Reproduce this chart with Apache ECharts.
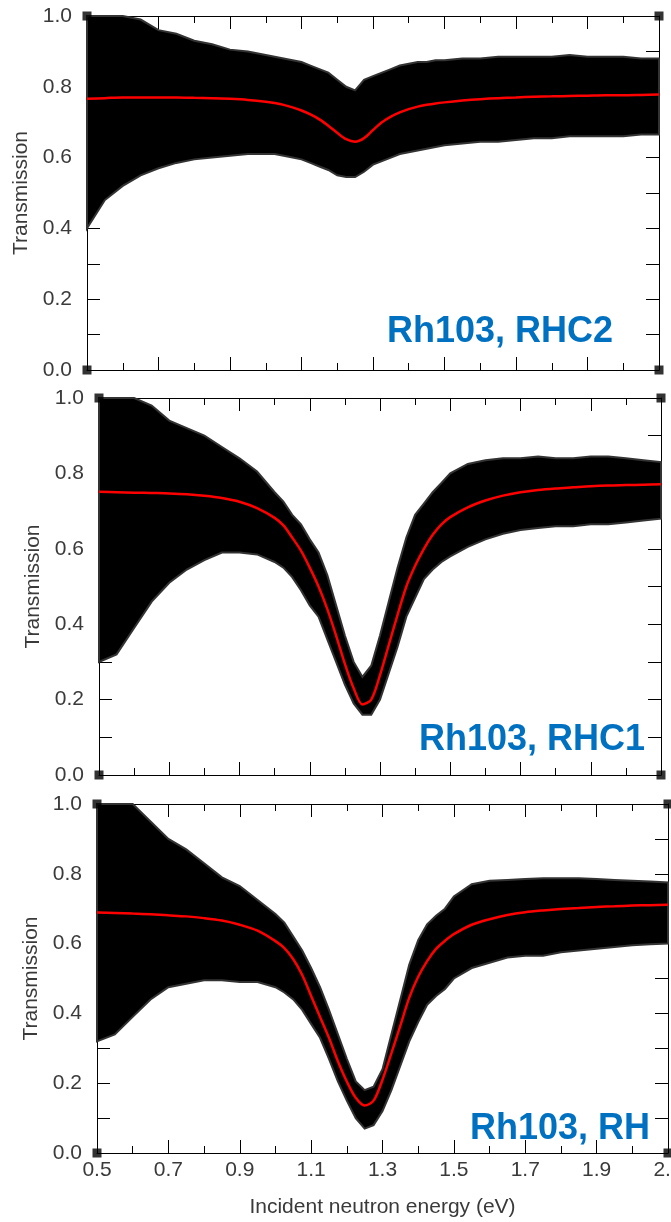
<!DOCTYPE html>
<html>
<head>
<meta charset="utf-8">
<script src="https://cdn.jsdelivr.net/npm/echarts@6/dist/echarts.min.js"></script>
<style>
  html, body { margin: 0; padding: 0; background: #fff; }
  #chart { width: 671px; height: 1222px; }
</style>
</head>
<body>
<div id="chart"></div>
<script>
// incident neutron energy (eV), denser around the 1.26 eV resonance
var energy = [0.50, 0.55, 0.60, 0.65, 0.70, 0.75, 0.80, 0.85, 0.90, 0.95, 1.00,
  1.025, 1.05, 1.075, 1.10, 1.125, 1.15, 1.175, 1.20, 1.225, 1.25, 1.275, 1.30, 1.325,
  1.35, 1.375, 1.40, 1.425, 1.45, 1.475, 1.50,
  1.55, 1.60, 1.65, 1.70, 1.75, 1.80, 1.85, 1.90, 1.95, 2.00, 2.05, 2.10];

// Rh103, RHC2 : fit (red), upper / lower edge of the measured points
var fitRHC2 = [0.766, 0.768, 0.770, 0.770, 0.770, 0.770, 0.769, 0.768, 0.766, 0.763, 0.758,
  0.754, 0.749, 0.742, 0.733, 0.722, 0.708, 0.690, 0.670, 0.652, 0.645, 0.655, 0.678, 0.700,
  0.716, 0.728, 0.737, 0.744, 0.749, 0.753, 0.756,
  0.761, 0.765, 0.768, 0.770, 0.772, 0.773, 0.774, 0.775, 0.776, 0.776, 0.777, 0.778];
var hiRHC2 = [1.00, 1.00, 1.00, 0.99, 0.96, 0.95, 0.93, 0.92, 0.905, 0.90, 0.89,
  0.885, 0.88, 0.875, 0.87, 0.86, 0.85, 0.84, 0.82, 0.80, 0.79, 0.82, 0.83, 0.84,
  0.85, 0.86, 0.865, 0.87, 0.87, 0.875, 0.875,
  0.88, 0.88, 0.885, 0.885, 0.885, 0.885, 0.89, 0.885, 0.885, 0.885, 0.88, 0.88];
var loRHC2 = [0.40, 0.48, 0.52, 0.55, 0.57, 0.585, 0.595, 0.60, 0.605, 0.61, 0.61,
  0.61, 0.605, 0.60, 0.595, 0.585, 0.575, 0.565, 0.55, 0.545, 0.545, 0.56, 0.58, 0.59,
  0.60, 0.61, 0.615, 0.62, 0.625, 0.63, 0.635,
  0.64, 0.645, 0.645, 0.65, 0.655, 0.655, 0.66, 0.66, 0.66, 0.66, 0.665, 0.665];

// Rh103, RHC1
var fitRHC1 = [0.751, 0.750, 0.749, 0.748, 0.747, 0.745, 0.741, 0.735, 0.725, 0.708, 0.682,
  0.662, 0.630, 0.595, 0.550, 0.500, 0.440, 0.370, 0.295, 0.230, 0.187, 0.200, 0.265, 0.345,
  0.425, 0.500, 0.555, 0.600, 0.637, 0.665, 0.684,
  0.710, 0.728, 0.741, 0.750, 0.756, 0.760, 0.763, 0.766, 0.768, 0.769, 0.770, 0.771];
var hiRHC1 = [1.00, 1.00, 1.00, 0.98, 0.94, 0.92, 0.90, 0.87, 0.84, 0.805, 0.75,
  0.725, 0.69, 0.665, 0.625, 0.59, 0.53, 0.45, 0.37, 0.30, 0.26, 0.29, 0.37, 0.46,
  0.55, 0.63, 0.69, 0.72, 0.75, 0.775, 0.80,
  0.825, 0.835, 0.84, 0.84, 0.845, 0.84, 0.84, 0.845, 0.845, 0.84, 0.835, 0.83];
var loRHC1 = [0.30, 0.32, 0.39, 0.46, 0.51, 0.545, 0.57, 0.59, 0.59, 0.585, 0.565,
  0.55, 0.525, 0.49, 0.45, 0.42, 0.36, 0.30, 0.24, 0.19, 0.16, 0.16, 0.20, 0.27,
  0.34, 0.42, 0.47, 0.52, 0.545, 0.565, 0.58,
  0.605, 0.625, 0.64, 0.65, 0.655, 0.66, 0.66, 0.665, 0.665, 0.67, 0.675, 0.68];

// Rh103, RH
var fitRH = [0.689, 0.688, 0.686, 0.684, 0.681, 0.678, 0.673, 0.666, 0.654, 0.637, 0.607,
  0.587, 0.555, 0.510, 0.450, 0.390, 0.330, 0.263, 0.205, 0.158, 0.136, 0.150, 0.210, 0.286,
  0.365, 0.445, 0.505, 0.550, 0.585, 0.608, 0.627,
  0.654, 0.670, 0.682, 0.690, 0.695, 0.699, 0.702, 0.705, 0.707, 0.709, 0.710, 0.711];
var hiRH = [1.00, 1.00, 1.00, 0.95, 0.90, 0.87, 0.83, 0.79, 0.765, 0.725, 0.685,
  0.66, 0.62, 0.58, 0.53, 0.475, 0.41, 0.34, 0.27, 0.205, 0.18, 0.19, 0.24, 0.34,
  0.44, 0.54, 0.61, 0.655, 0.68, 0.70, 0.735,
  0.77, 0.78, 0.782, 0.785, 0.787, 0.787, 0.787, 0.785, 0.782, 0.78, 0.778, 0.775];
var loRH = [0.32, 0.34, 0.39, 0.44, 0.475, 0.485, 0.495, 0.495, 0.49, 0.49, 0.475,
  0.46, 0.44, 0.41, 0.37, 0.33, 0.27, 0.205, 0.15, 0.10, 0.07, 0.08, 0.12, 0.18,
  0.25, 0.32, 0.375, 0.425, 0.45, 0.47, 0.50,
  0.53, 0.545, 0.56, 0.565, 0.565, 0.575, 0.58, 0.585, 0.59, 0.595, 0.598, 0.60];

var sampleNames = ['Rh103, RHC2', 'Rh103, RHC1', 'Rh103, RH'];
var xRange = [0.5, 2.1];
var yRange = [0, 1];
var corners = [[0.5, 0], [2.1, 0], [0.5, 1], [2.1, 1]];

var panels = [
  { fit: fitRHC2, hi: hiRHC2, lo: loRHC2 },
  { fit: fitRHC1, hi: hiRHC1, lo: loRHC1 },
  { fit: fitRH, hi: hiRH, lo: loRH }
];

// pixel layout of the three stacked frames
var grids = [
  { left: 87, right: 12, top: 16, height: 354 },
  { left: 99, right: 10, top: 398, height: 377 },
  { left: 97, right: 3, top: 804, height: 349 }
];
grids.forEach(function (g) { g.outerBoundsMode = 'none'; g.containLabel = false; });
var nameGaps = [45, 43, 42];
var tagPos = [[613, 332], [645, 740], [650, 1129]];

var txt = { fontFamily: 'Liberation Sans', fontSize: 21, color: '#3a3a3a' };
var black = { color: '#000', width: 1 };

var chart = echarts.init(document.getElementById('chart'));
var xAxes = [], yAxes = [], series = [], graphics = [];

function oneDecimal(v) { return v.toFixed(1); }

for (var p = 0; p < 3; p++) {
  var last = p === 2;
  // bottom: all 0.1 ticks short, labels every 0.2
  xAxes.push({
    gridIndex: p, type: 'value', min: xRange[0], max: xRange[1], interval: 0.1, position: 'bottom',
    axisLine: { show: true, onZero: false, lineStyle: black },
    axisTick: { show: true, inside: true, length: 7, lineStyle: black },
    axisLabel: {
      show: last, margin: 7, fontFamily: txt.fontFamily, fontSize: txt.fontSize, color: txt.color,
      showMaxLabel: true, hideOverlap: false,
      formatter: function (v) { return Math.round(v * 10) % 2 === 1 ? oneDecimal(v) : ''; }
    },
    splitLine: { show: false },
    name: last ? 'Incident neutron energy (eV)' : '',
    nameLocation: 'middle', nameGap: 44,
    nameTextStyle: { fontFamily: txt.fontFamily, fontSize: txt.fontSize, color: txt.color }
  });
  // bottom: long ticks at 0.5, 0.7, ...
  xAxes.push({
    gridIndex: p, type: 'value', min: xRange[0], max: xRange[1], interval: 0.2, position: 'bottom',
    axisLine: { show: false, onZero: false },
    axisTick: { show: true, inside: true, length: 13, lineStyle: black },
    axisLabel: { show: false }, splitLine: { show: false }
  });
  // top mirror
  xAxes.push({
    gridIndex: p, type: 'value', min: xRange[0], max: xRange[1], interval: 0.1, position: 'top',
    axisLine: { show: true, onZero: false, lineStyle: black },
    axisTick: { show: true, inside: true, length: 7, lineStyle: black },
    axisLabel: { show: false }, splitLine: { show: false }
  });
  xAxes.push({
    gridIndex: p, type: 'value', min: xRange[0], max: xRange[1], interval: 0.2, position: 'top',
    axisLine: { show: false, onZero: false },
    axisTick: { show: true, inside: true, length: 13, lineStyle: black },
    axisLabel: { show: false }, splitLine: { show: false }
  });

  yAxes.push({
    gridIndex: p, type: 'value', min: yRange[0], max: yRange[1], interval: 0.1, position: 'left',
    axisLine: { show: true, onZero: false, lineStyle: black },
    axisTick: { show: true, inside: true, length: 13, lineStyle: black },
    axisLabel: {
      margin: 15, fontFamily: txt.fontFamily, fontSize: txt.fontSize, color: txt.color,
      formatter: function (v) { return Math.round(v * 10) % 2 === 0 ? oneDecimal(v) : ''; }
    },
    splitLine: { show: false },
    name: 'Transmission', nameLocation: 'middle', nameGap: nameGaps[p],
    nameTextStyle: { fontFamily: txt.fontFamily, fontSize: txt.fontSize, color: txt.color }
  });
  yAxes.push({
    gridIndex: p, type: 'value', min: yRange[0], max: yRange[1], interval: 0.1, position: 'right',
    axisLine: { show: true, onZero: false, lineStyle: black },
    axisTick: { show: true, inside: true, length: 13, lineStyle: black },
    axisLabel: { show: false }, splitLine: { show: false }
  });

  (function (d, xi, yi) {
    series.push({
      type: 'custom', xAxisIndex: xi, yAxisIndex: yi, silent: true,
      data: [[energy[0], d.hi[0]]],
      renderItem: function (params, api) {
        var pts = [];
        for (var i = 0; i < energy.length; i++) pts.push(api.coord([energy[i], d.hi[i]]));
        for (var j = energy.length - 1; j >= 0; j--) pts.push(api.coord([energy[j], d.lo[j]]));
        return {
          type: 'polygon', shape: { points: pts },
          style: { fill: '#000', stroke: '#333', lineWidth: 2 }
        };
      }
    });
    series.push({
      type: 'line', xAxisIndex: xi, yAxisIndex: yi, silent: true,
      data: energy.map(function (e, i) { return [e, d.fit[i]]; }),
      smooth: 0.3, showSymbol: false, symbol: 'none',
      lineStyle: { color: '#ff0000', width: 2.5 }
    });
    series.push({
      type: 'scatter', xAxisIndex: xi, yAxisIndex: yi, silent: true, clip: false,
      data: corners, symbol: 'rect', symbolSize: 9,
      itemStyle: { color: '#000' }
    });
  })(panels[p], p * 4, p * 2);

  graphics.push({
    type: 'text', x: tagPos[p][0], y: tagPos[p][1],
    style: {
      text: sampleNames[p], fill: '#0070c0', align: 'right', verticalAlign: 'middle',
      font: 'bold 36px "Liberation Sans", Arial, sans-serif'
    }
  });
}

chart.setOption({
  animation: false,
  backgroundColor: '#fff',
  grid: grids,
  xAxis: xAxes,
  yAxis: yAxes,
  series: series,
  graphic: graphics
});
</script>
</body>
</html>
